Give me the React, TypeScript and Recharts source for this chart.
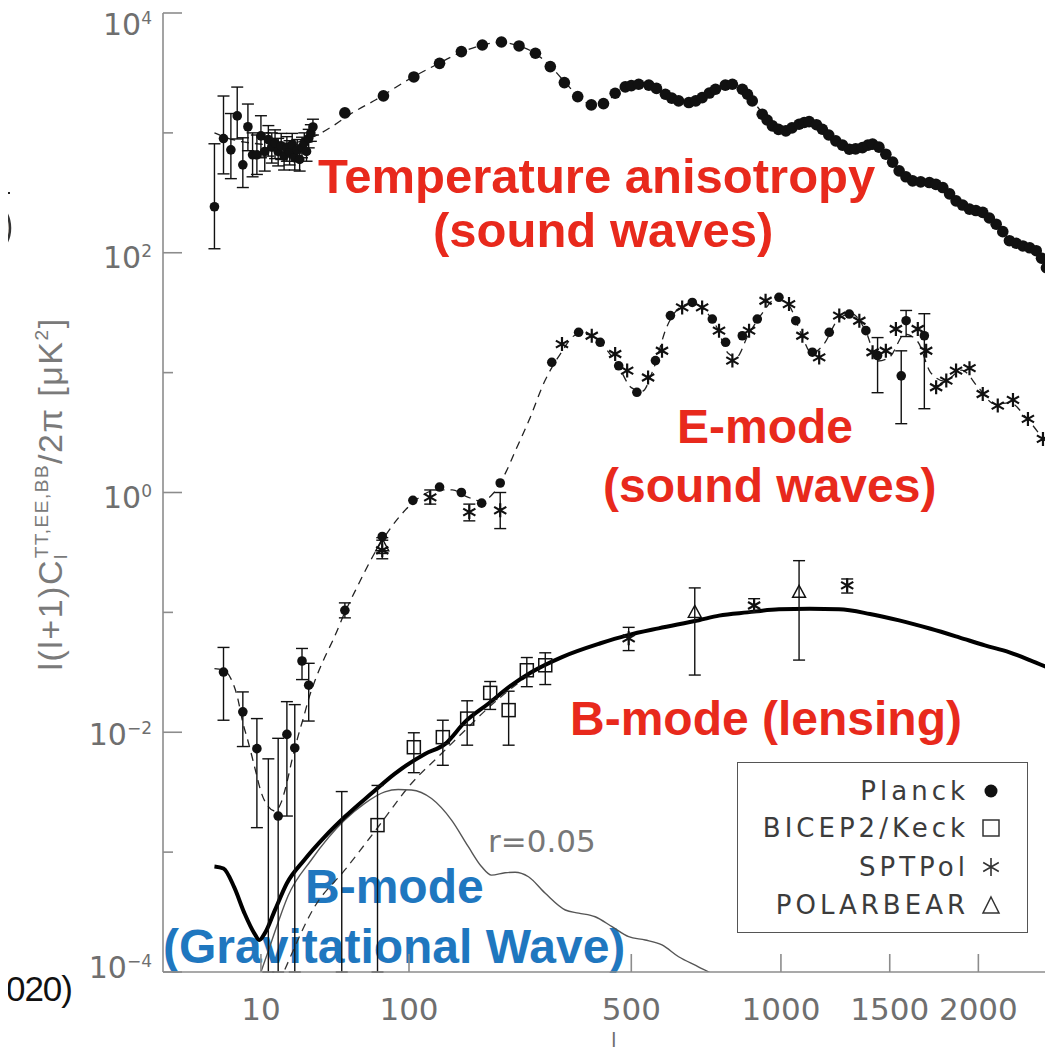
import React from "react";
import {
  ComposedChart,
  Line,
  Scatter,
  XAxis,
  YAxis,
  ErrorBar,
  Legend,
  Customized,
} from "recharts";

// multipole l and l(l+1)C_l/2pi in muK^2

// TT, Planck, low l (with error bars)
const ttLowEll = [2, 3, 4, 5, 6, 7, 8, 9, 10, 11, 12, 13, 14, 15, 16, 17, 18, 19, 20, 21, 22, 23, 24, 25, 26, 27, 28, 29];
const ttLowVal = [242, 897, 722, 1386, 541, 1125, 656, 656, 944, 700, 880, 760, 820, 700, 780, 640, 740, 690, 800, 620, 720, 600, 760, 830, 700, 900, 1000, 1120];
const ttLowLo = [108, 455, 415, 890, 350, 710, 430, 450, 620, 480, 640, 560, 610, 530, 600, 490, 580, 540, 630, 490, 580, 480, 620, 680, 580, 750, 850, 960];
const ttLowHi = [811, 2030, 1450, 2410, 910, 1740, 1000, 960, 1390, 1000, 1150, 1000, 1060, 900, 990, 820, 930, 860, 990, 770, 880, 740, 920, 1000, 840, 1070, 1170, 1300];

// TT, Planck, binned
const ttEll = [47, 76, 105, 134, 162, 192, 222, 252, 282, 311, 340, 369, 400, 429, 458, 484, 500, 520, 548, 570, 596, 615, 636, 668, 690, 711, 735, 756, 790, 815, 851, 870, 888, 926, 945, 966, 990, 1020, 1045, 1075, 1097, 1118, 1150, 1176, 1205, 1237, 1268, 1300, 1330, 1363, 1390, 1413, 1445, 1480, 1515, 1549, 1585, 1621, 1665, 1713, 1750, 1789, 1828, 1866, 1905, 1946, 1985, 2027, 2068, 2111, 2153, 2196, 2240, 2284, 2330, 2374, 2410, 2444];
const ttVal = [1468, 2034, 2929, 3800, 4765, 5410, 5728, 5310, 4615, 3570, 2627, 2008, 1711, 1754, 2140, 2418, 2480, 2545, 2500, 2350, 2100, 1950, 1848, 1790, 1850, 1970, 2150, 2312, 2500, 2545, 2312, 2100, 1848, 1432, 1280, 1143, 1070, 1040, 1100, 1180, 1220, 1241, 1170, 1072, 960, 858, 790, 731, 735, 754, 790, 805, 760, 664, 570, 482, 430, 398, 390, 385, 372, 350, 310, 271, 250, 231, 225, 217, 195, 173, 150, 126, 120, 114, 110, 104, 90, 75];

// TT model (dashed)
const ttThEll = [2, 3, 5, 8, 12, 18, 25, 30, 40, 50, 70, 100, 130, 160, 190, 220, 250, 280, 310, 340, 370, 400, 430, 460, 490, 530, 560, 600, 640, 670, 710, 760, 810, 850, 890, 930, 970, 1020, 1075, 1120, 1180, 1240, 1300, 1360, 1410, 1480, 1550, 1620, 1710, 1790, 1870, 1950, 2030, 2110, 2200, 2280, 2370, 2450];
const ttThVal = [1000, 930, 860, 820, 800, 810, 870, 940, 1150, 1420, 1900, 2800, 3700, 4650, 5350, 5700, 5350, 4650, 3650, 2680, 2030, 1720, 1760, 2130, 2420, 2550, 2460, 2090, 1850, 1790, 1960, 2330, 2540, 2330, 1850, 1430, 1150, 1040, 1170, 1240, 1080, 860, 735, 755, 800, 665, 485, 400, 385, 350, 270, 230, 215, 172, 127, 114, 104, 76];

// EE, Planck, low l
const eeLowEll = [3, 6, 9, 12, 15, 18, 21, 24, 27, 47];
const eeLowVal = [0.0318, 0.0148, 0.0073, 0.00006, 0.002, 0.0096, 0.0074, 0.0393, 0.0247, 0.104];
const eeLowLo = [0.0126, 0.0076, 0.0016, 0.0001, 0.0001, 0.002, 0.0001, 0.0275, 0.0124, 0.09];
const eeLowHi = [0.051, 0.0217, 0.013, 0.006, 0.0089, 0.018, 0.017, 0.05, 0.0376, 0.12];

// EE, Planck, binned
const eeEll = [75, 104, 134, 162, 191, 220, 314, 371, 421, 467, 515, 567, 611, 679, 745, 791, 851, 907, 992, 1061, 1132, 1207, 1300, 1380];
const eeVal = [0.43, 0.86, 1.11, 1.0, 0.815, 1.2, 12.2, 21.7, 17.9, 11.4, 6.85, 12.6, 29.9, 38.5, 28, 17.9, 20.3, 28, 42.5, 27.1, 14.8, 21.7, 30.8, 22.4];

// EE, Planck, high l (large errors)
const eeHiEll = [1438, 1560, 1586, 1685];
const eeHiVal = [13.9, 9.4, 27.1, 20.3];
const eeHiLo = [6.8, 3.75, 20, 5.0];
const eeHiHi = [19.6, 15.2, 33, 31];

// EE, SPTPol
const sptEeLowEll = [75, 123, 173, 220];
const sptEeLowVal = [0.33, 0.91, 0.686, 0.71];
const sptEeLowLo = [0.28, 0.8, 0.58, 0.5];
const sptEeLowHi = [0.4, 1.05, 0.8, 1.0];
const sptEeEll = [335, 401, 458, 489, 546, 586, 647, 711, 768, 815, 876, 939, 1033, 1089, 1162, 1253, 1348, 1413, 1480, 1532, 1649, 1695, 1751, 1809, 1866, 1946, 2027, 2121, 2219, 2318, 2420];
const sptEeVal = [17.3, 20.3, 14.3, 10.4, 9.1, 15.2, 35, 35, 22.4, 12.6, 22.4, 39.8, 37.3, 20.3, 13.4, 29.9, 27.1, 14.8, 15.2, 23.1, 23.1, 15.2, 7.55, 8.58, 10.4, 10.9, 6.64, 5.31, 5.92, 4.11, 2.8];

// EE model (dashed)
const eeThEll = [2, 3, 4, 5, 6, 7, 8, 9, 10, 12, 14, 16, 18, 20, 22.5, 25, 27, 30, 35, 40, 47, 55, 70, 90, 110, 130, 150, 170, 190, 210, 230, 245, 270, 300, 330, 370, 400, 430, 465, 500, 530, 560, 600, 640, 680, 720, 760, 800, 830, 870, 920, 980, 1030, 1080, 1130, 1180, 1250, 1310, 1380, 1440, 1500, 1580, 1650, 1720, 1800, 1900, 2000, 2100, 2200, 2300, 2420];
const eeThVal = [0.034, 0.033, 0.028, 0.02, 0.012, 0.0085, 0.006, 0.0043, 0.0032, 0.0024, 0.0022, 0.0026, 0.0038, 0.006, 0.0095, 0.014, 0.019, 0.027, 0.042, 0.06, 0.1, 0.16, 0.33, 0.62, 0.9, 1.05, 1.05, 0.92, 0.85, 1.0, 1.5, 2.2, 4, 8.5, 14, 21, 20.5, 16.5, 11.5, 7.5, 7, 10.5, 24, 35, 38, 33, 24, 14.5, 13.5, 20, 30, 41, 37, 22, 14.5, 17, 28, 31, 22, 12.5, 13.5, 21, 18, 10, 8.5, 10.5, 7.5, 5.5, 5.6, 4.3, 2.8];

// BB total model (thick), lensing (dashed), tensor r=0.05 (thin)
const bbThEll = [2, 3, 4.5, 6.3, 8.4, 9.6, 11, 14, 18, 25, 35, 47, 66, 86, 117, 141, 167, 201, 239, 275, 335, 420, 489, 576, 700, 768, 870, 992, 1120, 1252, 1400, 1549, 1720, 1884, 2040, 2196, 2330, 2466];
const bbThVal = [7.6e-4, 7.3e-4, 5.1e-4, 3.1e-4, 2.1e-4, 1.85e-4, 2.1e-4, 3.3e-4, 5.5e-4, 8.6e-4, 1.34e-3, 1.97e-3, 3.08e-3, 4.5e-3, 6.6e-3, 8.0e-3, 0.0122, 0.0173, 0.0247, 0.0318, 0.0424, 0.055, 0.0643, 0.0736, 0.086, 0.094, 0.1, 0.106, 0.107, 0.106, 0.097, 0.0858, 0.073, 0.0619, 0.053, 0.0464, 0.04, 0.0341];
const bbLensEll = [12, 17.2, 29.8, 47, 71.5, 102.5, 136.4, 170, 200, 240, 275, 335, 489];
const bbLensVal = [5e-5, 1.04e-4, 3.5e-4, 7.1e-4, 1.62e-3, 3.74e-3, 6.64e-3, 0.0108, 0.0158, 0.0235, 0.031, 0.042, 0.0643];
const tensorEll = [10, 12, 15, 18.4, 28.2, 46.9, 60.9, 77.2, 89.3, 102.5, 124.5, 149, 171.6, 191, 206, 228, 245, 269, 301, 342, 371, 409, 450, 493, 538, 586, 636, 700, 750, 800];
const tensorVal = [1.0e-4, 1.5e-4, 2.6e-4, 4.3e-4, 8.6e-4, 1.85e-3, 2.55e-3, 3.18e-3, 3.33e-3, 3.3e-3, 2.8e-3, 1.85e-3, 1.11e-3, 7.55e-4, 6.43e-4, 6.73e-4, 6.8e-4, 6.23e-4, 4.53e-4, 3.29e-4, 3.1e-4, 2.89e-4, 2.39e-4, 1.97e-4, 1.85e-4, 1.68e-4, 1.34e-4, 1.1e-4, 9.4e-5, 7e-5];

// BB data
const bkEll = [45, 71, 105, 138, 170, 204, 234, 266, 301];
const bkVal = [5e-5, 0.00168, 0.0075, 0.0091, 0.013, 0.0213, 0.0153, 0.0329, 0.0362];
const bkLo = [1e-4, 1e-4, 0.0046, 0.0053, 0.0078, 0.0155, 0.0078, 0.024, 0.025];
const bkHi = [0.0032, 0.0036, 0.0099, 0.0126, 0.0183, 0.0265, 0.022, 0.042, 0.046];
const sptBbEll = [493, 895, 1290];
const sptBbVal = [0.0607, 0.114, 0.168];
const sptBbLo = [0.048, 0.1, 0.145];
const sptBbHi = [0.075, 0.13, 0.19];
const pbEll = [75, 687, 1075];
const pbVal = [0.36, 0.1, 0.147];
const pbLo = [0.31, 0.03, 0.04];
const pbHi = [0.42, 0.16, 0.27];

const xTickEll = [10, 100, 500, 1000, 1500, 2000];
const yTickVals = [1e-4, 1e-3, 1e-2, 1e-1, 1, 10, 100, 1000, 1e4];
const legendNames = ["Planck", "BICEP2/Keck", "SPTPol", "POLARBEAR"];

const W = 1045;
const H = 1046;
const X_MAX = 22.75;
const INK = "#111";
const AXIS = "#8c8c8c";
const LABEL = "#6f6f6f";
const RED = "#e8291c";
const BLUE = "#1f77bf";

// the l axis of the figure is linear in l^0.4
const lx = (l: number) => Math.pow(l, 0.4);

const toPts = (ell: number[], val: number[], lo?: number[], hi?: number[]) =>
  ell.map((l, i) => ({
    x: lx(l),
    y: val[i],
    err: lo && hi ? [val[i] - lo[i], hi[i] - val[i]] : undefined,
  }));

const DotShape = (p: any) => <circle cx={p.cx} cy={p.cy} r={4.8} fill={INK} />;
const BandDot = (p: any) => <circle cx={p.cx} cy={p.cy} r={5.8} fill={INK} />;
const SquareShape = (p: any) => (
  <rect x={p.cx - 6.5} y={p.cy - 6.5} width={13} height={13} fill="none" stroke={INK} strokeWidth={1.5} />
);
const StarShape = (p: any) => {
  const { cx, cy } = p;
  const r = 7;
  const dx = r * 0.87;
  const dy = r * 0.5;
  return (
    <path
      d={`M${cx} ${cy - r}V${cy + r}M${cx - dx} ${cy - dy}L${cx + dx} ${cy + dy}M${cx - dx} ${cy + dy}L${cx + dx} ${cy - dy}`}
      stroke={INK}
      strokeWidth={2.2}
      fill="none"
    />
  );
};
const TriShape = (p: any) => {
  const { cx, cy } = p;
  return <path d={`M${cx} ${cy - 7}L${cx + 6.5} ${cy + 5}L${cx - 6.5} ${cy + 5}Z`} fill="none" stroke={INK} strokeWidth={1.4} />;
};

const BottomTick = (p: any) => {
  const { x, y, payload } = p;
  return (
    <g>
      <line x1={x} x2={x} y1={y} y2={y - 18} stroke={AXIS} strokeWidth={1.6} />
      <text x={x} y={y + 48} textAnchor="middle" fill={LABEL} fontSize={31} fontFamily="DejaVu Sans">
        {Math.round(Math.pow(payload.value, 2.5))}
      </text>
    </g>
  );
};
const TopTick = (p: any) => <line x1={p.x} x2={p.x} y1={p.y} y2={p.y + 18} stroke={AXIS} strokeWidth={1.6} />;
const RightTick = (p: any) => <line x1={p.x} x2={p.x - 18} y1={p.y} y2={p.y} stroke={AXIS} strokeWidth={1.6} />;

const labelDrop: Record<number, number> = { 4: 22, 2: 15, 0: 15, [-2]: 13, [-4]: 6 };
const LeftTick = (p: any) => {
  const { x, y, payload } = p;
  const e = Math.round(Math.log10(payload.value));
  const major = e % 2 === 0;
  return (
    <g>
      <line x1={x} x2={x + (major ? 19 : 10)} y1={y} y2={y} stroke={AXIS} strokeWidth={1.6} />
      {major && (
        <text x={x - 11} y={y + labelDrop[e]} textAnchor="end" fill={LABEL} fontSize={30} fontFamily="DejaVu Sans">
          10
          <tspan dy={-11} fontSize={17}>
            {e < 0 ? "\u2212" + -e : String(e)}
          </tspan>
        </text>
      )}
    </g>
  );
};

const LegendSymbol = ({ i }: { i: number }) => (
  <svg width={22} height={22} style={{ position: "absolute", left: 242, top: [28, 65, 104, 142][i] - 11 }}>
    {i === 0 && <circle cx={11} cy={11} r={6.5} fill={INK} />}
    {i === 1 && <rect x={3} y={3} width={16} height={16} fill="none" stroke="#333" strokeWidth={1.5} />}
    {i === 2 && <path d="M11 2V20M3.2 6.5L18.8 15.5M3.2 15.5L18.8 6.5" stroke="#333" strokeWidth={1.6} />}
    {i === 3 && <path d="M11 3L19 19H3Z" fill="none" stroke="#333" strokeWidth={1.5} />}
  </svg>
);

const LegendBox = () => (
  <div
    style={{
      width: 291,
      height: 171,
      border: "1.6px solid #555",
      boxSizing: "border-box",
      background: "#fff",
      position: "relative",
      fontFamily: "DejaVu Sans",
      fontSize: 26,
      color: "#3c3c3c",
    }}
  >
    {legendNames.map((n, i) => (
      <React.Fragment key={n}>
        <div
          style={{
            position: "absolute",
            right: 58,
            top: [28, 65, 104, 142][i] - 16,
            lineHeight: "32px",
            letterSpacing: 4,
            whiteSpace: "nowrap",
          }}
        >
          {n}
        </div>
        <LegendSymbol i={i} />
      </React.Fragment>
    ))}
  </div>
);

const Notes = () => (
  <g>
    <g fontFamily="Liberation Sans" fontWeight="bold">
      <text x={310} y={185} fontSize={49} fill={RED}>Temperature anisotropy</text>
      <text x={425} y={239} fontSize={49} fill={RED}>(sound waves)</text>
      <text x={669} y={435} fontSize={48} fill={RED}>E-mode</text>
      <text x={595} y={494} fontSize={48} fill={RED}>(sound waves)</text>
      <text x={562} y={727} fontSize={48} fill={RED}>B-mode (lensing)</text>
      <text x={297} y={895} fontSize={48} fill={BLUE}>B-mode</text>
      <text x={155} y={955} fontSize={48} fill={BLUE}>(Gravitational Wave)</text>
    </g>
    <text x={480} y={844} fontSize={31} fill="#777" fontFamily="DejaVu Sans">r=0.05</text>
    <text
      transform="rotate(-90)"
      x={-486}
      y={54}
      textAnchor="middle"
      fill="#7a7a7a"
      fontSize={34}
      fontFamily="Liberation Sans"
      letterSpacing={1.5}
    >
      l(l+1)C
      <tspan fontSize={19} dy={5}>l</tspan>
      <tspan fontSize={19} dx={-5} dy={-19}>TT,EE,BB</tspan>
      <tspan dy={14}>/2π  [μK</tspan>
      <tspan fontSize={19} dy={-14}>2</tspan>
      <tspan dy={14}>]</tspan>
    </text>
    <text x={603} y={1039} fontSize={20} fill={LABEL} fontFamily="DejaVu Sans">l</text>
  </g>
);

const ttLowPts = toPts(ttLowEll, ttLowVal, ttLowLo, ttLowHi);
const ttPts = toPts(ttEll, ttVal);
const ttThPts = toPts(ttThEll, ttThVal);
const eeLowPts = toPts(eeLowEll, eeLowVal, eeLowLo, eeLowHi);
const eePts = toPts(eeEll, eeVal);
const eeHiPts = toPts(eeHiEll, eeHiVal, eeHiLo, eeHiHi);
const sptEeLowPts = toPts(sptEeLowEll, sptEeLowVal, sptEeLowLo, sptEeLowHi);
const sptEePts = toPts(sptEeEll, sptEeVal);
const eeThPts = toPts(eeThEll, eeThVal);
const bbThPts = toPts(bbThEll, bbThVal);
const bbLensPts = toPts(bbLensEll, bbLensVal);
const tensorPts = toPts(tensorEll, tensorVal);
const bkPts = toPts(bkEll, bkVal, bkLo, bkHi);
const sptBbPts = toPts(sptBbEll, sptBbVal, sptBbLo, sptBbHi);
const pbPts = toPts(pbEll, pbVal, pbLo, pbHi);

const errBar = <ErrorBar dataKey="err" direction="y" width={6} stroke={INK} strokeWidth={1.4} />;

export default function App() {
  return (
    <div style={{ position: "relative", width: W, height: H }}>
      <style>{"html,body{overflow:hidden}"}</style>
      <ComposedChart width={W} height={H} margin={{ top: 5, right: 3, bottom: 0, left: 0 }}>
        <XAxis
          xAxisId="b"
          type="number"
          dataKey="x"
          domain={[0, X_MAX]}
          allowDataOverflow
          ticks={xTickEll.map(lx)}
          interval={0}
          height={82}
          tickSize={0}
          tickMargin={0}
          tickLine={false}
          axisLine={{ stroke: AXIS, strokeWidth: 1.6 }}
          tick={BottomTick}
        />
        <XAxis
          xAxisId="t"
          orientation="top"
          type="number"
          dataKey="x"
          domain={[0, X_MAX]}
          allowDataOverflow
          ticks={xTickEll.map(lx)}
          interval={0}
          height={0}
          tickSize={0}
          tickMargin={0}
          tickLine={false}
          axisLine={{ stroke: AXIS, strokeWidth: 1.6 }}
          tick={TopTick}
        />
        <YAxis
          yAxisId="l"
          type="number"
          dataKey="y"
          scale="log"
          domain={[1e-4, 1e4]}
          allowDataOverflow
          ticks={yTickVals}
          interval={0}
          width={155}
          tickSize={0}
          tickMargin={0}
          tickLine={false}
          axisLine={{ stroke: AXIS, strokeWidth: 1.6 }}
          tick={LeftTick}
        />
        <YAxis
          yAxisId="r"
          orientation="right"
          type="number"
          dataKey="y"
          scale="log"
          domain={[1e-4, 1e4]}
          allowDataOverflow
          ticks={yTickVals}
          interval={0}
          width={0}
          tickSize={0}
          tickMargin={0}
          tickLine={false}
          axisLine={{ stroke: AXIS, strokeWidth: 1.6 }}
          tick={RightTick}
        />

        <Customized component={Notes} />

        <Line data={ttThPts} dataKey="y" xAxisId="b" yAxisId="l" type="monotone" stroke="#222" strokeWidth={1.3} strokeDasharray="8 6" dot={false} activeDot={false} isAnimationActive={false} />
        <Line data={eeThPts} dataKey="y" xAxisId="b" yAxisId="l" type="monotone" stroke="#222" strokeWidth={1.3} strokeDasharray="8 6" dot={false} activeDot={false} isAnimationActive={false} />
        <Line data={bbLensPts} dataKey="y" xAxisId="b" yAxisId="l" type="monotone" stroke="#333" strokeWidth={1.3} strokeDasharray="8 6" dot={false} activeDot={false} isAnimationActive={false} />
        <Line data={tensorPts} dataKey="y" xAxisId="b" yAxisId="l" type="monotone" stroke="#555" strokeWidth={1.4} dot={false} activeDot={false} isAnimationActive={false} />
        <Line data={bbThPts} dataKey="y" xAxisId="b" yAxisId="l" type="monotone" stroke="#000" strokeWidth={4} dot={false} activeDot={false} isAnimationActive={false} />

        <Scatter data={ttLowPts} xAxisId="b" yAxisId="l" shape={DotShape} isAnimationActive={false}>{errBar}</Scatter>
        <Scatter data={ttPts} xAxisId="b" yAxisId="l" shape={BandDot} isAnimationActive={false} />
        <Scatter data={eeLowPts} xAxisId="b" yAxisId="l" shape={DotShape} isAnimationActive={false}>{errBar}</Scatter>
        <Scatter data={eePts} xAxisId="b" yAxisId="l" shape={DotShape} isAnimationActive={false} />
        <Scatter data={eeHiPts} xAxisId="b" yAxisId="l" shape={DotShape} isAnimationActive={false}>{errBar}</Scatter>
        <Scatter data={sptEeLowPts} xAxisId="b" yAxisId="l" shape={StarShape} isAnimationActive={false}>{errBar}</Scatter>
        <Scatter data={sptEePts} xAxisId="b" yAxisId="l" shape={StarShape} isAnimationActive={false} />
        <Scatter data={bkPts} xAxisId="b" yAxisId="l" shape={SquareShape} isAnimationActive={false}>{errBar}</Scatter>
        <Scatter data={sptBbPts} xAxisId="b" yAxisId="l" shape={StarShape} isAnimationActive={false}>{errBar}</Scatter>
        <Scatter data={pbPts} xAxisId="b" yAxisId="l" shape={TriShape} isAnimationActive={false}>{errBar}</Scatter>
        <Scatter data={ttPts} xAxisId="t" yAxisId="r" shape={() => <g />} isAnimationActive={false} />

        <Legend
          layout="horizontal"
          verticalAlign="middle"
          align="center"
          wrapperStyle={{ position: "absolute", left: 729, top: 754, width: 291, height: 171 }}
          content={() => <LegendBox />}
        />
      </ComposedChart>

      <div
        style={{
          position: "absolute",
          right: W - 64,
          top: 961,
          fontFamily: "Liberation Sans",
          fontSize: 35,
          lineHeight: "40px",
          letterSpacing: -1,
          color: "#111",
          whiteSpace: "nowrap",
        }}
      >
        020)
      </div>
      <svg width={14} height={90} style={{ position: "absolute", left: -8, top: 177 }}>
        <line x1={0} x2={10} y1={8} y2={8} stroke="#222" strokeWidth={2} />
        <circle cx={-22} cy={43} r={32} fill="#f6ecdf" stroke="#333" strokeWidth={2.5} />
      </svg>
    </div>
  );
}
